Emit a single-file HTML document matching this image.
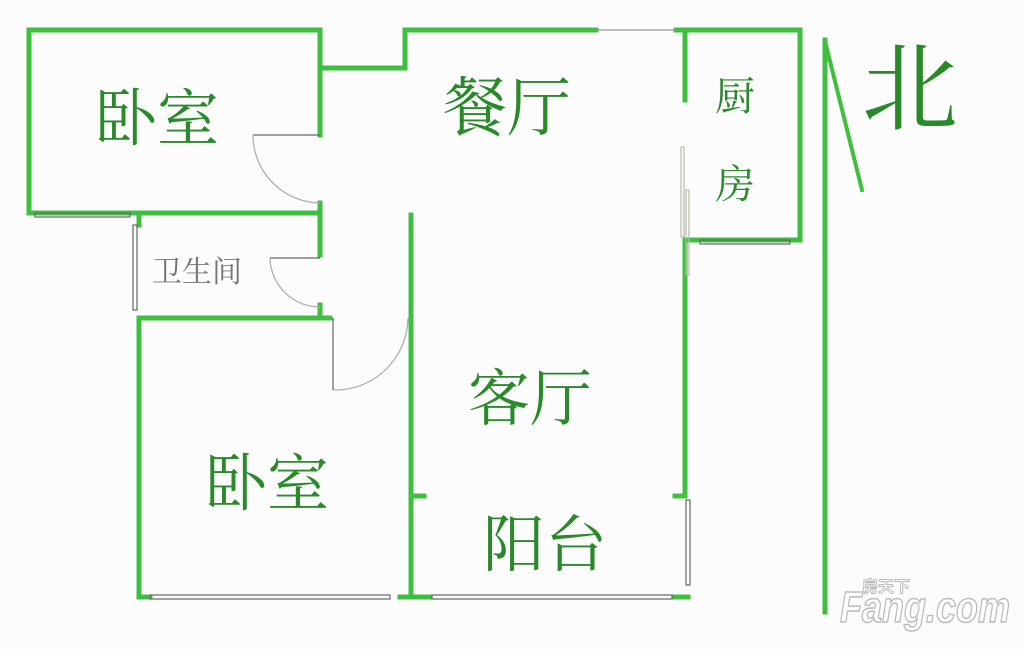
<!DOCTYPE html>
<html><head><meta charset="utf-8"><style>
html,body{margin:0;padding:0;background:#fcfcfc;}
svg{display:block;}
text{font-family:"Noto Serif CJK SC","Liberation Serif",serif;fill:#2a8a2a;}
</style></head><body>
<svg width="1024" height="649" viewBox="0 0 1024 649" xmlns="http://www.w3.org/2000/svg">
<rect width="1024" height="649" fill="#fcfcfc"/>
<g stroke="#3fbf3f" stroke-width="5" fill="none" stroke-linecap="square">
<polyline points="320,135 320,30 29,30 29,213 320,213 320,203"/>
<line x1="320" y1="68" x2="405" y2="68"/>
<polyline points="405,68 405,30 596,30"/>
<polyline points="676,30 800,30 800,240 685,240"/>
<line x1="685" y1="30" x2="685" y2="100"/>
<line x1="320" y1="213" x2="320" y2="255"/>
<line x1="320" y1="305" x2="320" y2="318"/>
<line x1="139" y1="318" x2="330" y2="318"/>
<line x1="139" y1="213" x2="139" y2="225"/>
<line x1="139" y1="318" x2="139" y2="597"/>
<line x1="411" y1="215" x2="411" y2="597"/>
<line x1="139" y1="597" x2="150" y2="597"/>
<line x1="400" y1="597" x2="430" y2="597"/>
<line x1="675" y1="597" x2="688" y2="597"/>
<line x1="685" y1="240" x2="685" y2="495"/>
<line x1="411" y1="496" x2="424" y2="496"/>
<line x1="675" y1="496" x2="685" y2="496"/>
<line x1="825" y1="40" x2="825" y2="612"/>
<line x1="826" y1="45" x2="862" y2="190" stroke-width="4"/>
</g>
<g stroke="#666" stroke-width="1.2" fill="none">
<rect x="35" y="213" width="95" height="4"/>
<rect x="133" y="225" width="4" height="85"/>
<rect x="150" y="595" width="240" height="4"/>
<rect x="432" y="595" width="240" height="4"/>
<rect x="686" y="500" width="4" height="85"/>
<rect x="700" y="240" width="90" height="4"/>
<line x1="596" y1="30" x2="676" y2="30" stroke="#999"/>
<rect x="681" y="147" width="3" height="90" stroke="#bba"/>
<rect x="686" y="190" width="3" height="85" stroke="#bba"/>
<line x1="253" y1="135" x2="320" y2="135"/>
<path d="M253,135 A68,68 0 0 0 320,203" stroke="#aaa"/>
<line x1="270" y1="258" x2="320" y2="258"/>
<path d="M270,258 A50,50 0 0 0 320,307" stroke="#aaa"/>
<line x1="333" y1="318" x2="333" y2="390"/>
<path d="M333,390 A73,73 0 0 0 408,318" stroke="#aaa"/>
</g>
<text x="95" y="140" font-size="62">卧室</text>
<text x="443" y="130" font-size="64">餐厅</text>
<text x="715" y="110" font-size="40">厨</text>
<text x="715" y="198" font-size="40">房</text>
<text x="152" y="282" font-size="30" style="fill:#777">卫生间</text>
<text x="468" y="420" font-size="62">客厅</text>
<text x="205" y="505" font-size="62">卧室</text>
<text x="483" y="566" font-size="62">阳台</text>
<text x="862" y="122" font-size="96" style="fill:#2a8a2a">北</text>
<text x="840" y="622" font-size="44" font-weight="bold" textLength="170" lengthAdjust="spacingAndGlyphs" style="fill:#fff;stroke:#bbb;stroke-width:1.5;font-family:'Liberation Sans',sans-serif;font-style:italic">Fang.com</text>
<text x="862" y="592" font-size="16" font-weight="bold" style="fill:#fff;stroke:#bbb;stroke-width:1;font-family:'Noto Sans CJK SC',sans-serif">房天下</text>
</svg>
</body></html>
